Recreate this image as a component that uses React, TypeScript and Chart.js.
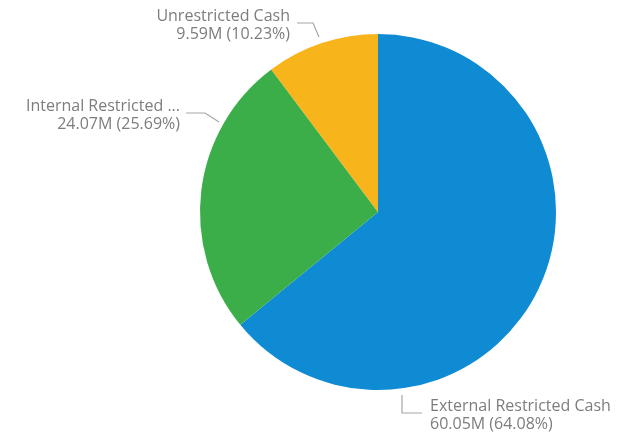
import React, { useEffect, useRef } from "react";
import { Chart, registerables } from "chart.js";

Chart.register(...registerables);

const categories = ["External Restricted Cash", "Internal Restricted ...", "Unrestricted Cash"];
const values = [60.05, 24.07, 9.59];
const valueLabels = ["60.05M", "24.07M", "9.59M"];
const percentLabels = ["64.08%", "25.69%", "10.23%"];
const colors = ["#0F8BD4", "#3CAE49", "#F8B41B"];

// label layout relative to pie centre (dx, dy) in px; text = [x, first baseline]
const labelLayout = [
  { start: [24, 183], elbow: [24, 201], end: [44, 201], text: [52, 199], align: "left" },
  { start: [-159, -90], elbow: [-173, -99], end: [-192, -99], text: [-198, -101], align: "right" },
  { start: [-59, -175], elbow: [-65, -189], end: [-81, -189], text: [-88, -191], align: "right" },
];

const labelPlugin = {
  id: "pieLabels",
  afterDraw(chart: any) {
    const ctx = chart.ctx;
    const meta = chart.getDatasetMeta(0);
    const arc = meta.data[0];
    if (!arc) return;
    const cx = arc.x;
    const cy = arc.y;
    ctx.save();
    ctx.strokeStyle = "#a6a6a6";
    ctx.lineWidth = 1.2;
    ctx.fillStyle = "#7d7d7d";
    ctx.font = "16px 'Open Sans', sans-serif";
    ctx.textBaseline = "alphabetic";
    labelLayout.forEach((l, i) => {
      ctx.beginPath();
      ctx.moveTo(cx + l.start[0], cy + l.start[1]);
      ctx.lineTo(cx + l.elbow[0], cy + l.elbow[1]);
      ctx.lineTo(cx + l.end[0], cy + l.end[1]);
      ctx.stroke();
      ctx.textAlign = l.align;
      ctx.fillText(categories[i], cx + l.text[0], cy + l.text[1]);
      ctx.fillText(`${valueLabels[i]} (${percentLabels[i]})`, cx + l.text[0], cy + l.text[1] + 18);
    });
    ctx.restore();
  },
};

export default function App() {
  const ref = useRef<HTMLCanvasElement>(null);
  useEffect(() => {
    if (!ref.current) return;
    const chart = new Chart(ref.current, {
      type: "pie",
      data: {
        labels: categories,
        datasets: [
          {
            data: values,
            backgroundColor: colors,
            borderWidth: 0,
          },
        ],
      },
      options: {
        responsive: false,
        animation: false,
        layout: { padding: { left: 200, right: 72, top: 34, bottom: 45 } },
        plugins: { legend: { display: false }, tooltip: { enabled: false } },
      },
      plugins: [labelPlugin],
    });
    return () => chart.destroy();
  }, []);
  return (
    <div style={{ position: "absolute", left: 0, top: 0, width: 628, height: 435, background: "#fff" }}>
      <canvas ref={ref} width={628} height={435} />
    </div>
  );
}
